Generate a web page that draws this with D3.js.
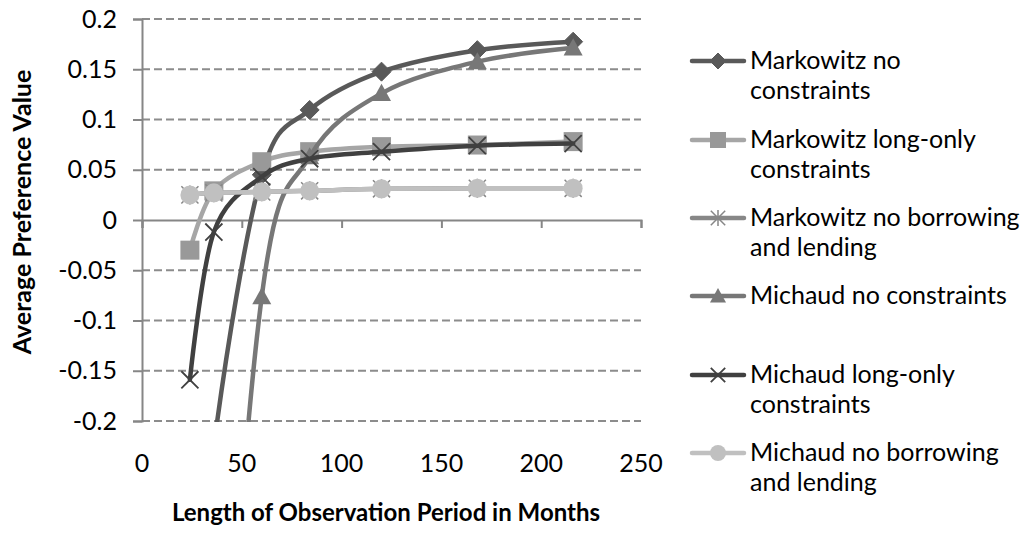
<!DOCTYPE html>
<html>
<head>
<meta charset="utf-8">
<script src="https://cdn.jsdelivr.net/npm/d3@7"></script>
<style>
  html, body { margin: 0; padding: 0; background: #fff; }
  svg { display: block; }
  text { font-family: Lato, "Open Sans", sans-serif; fill: #000; }
</style>
</head>
<body>
<svg id="chart" width="1024" height="534"></svg>
<script>
// ---- data ----
const months = [24, 36, 60, 84, 120, 168, 216];
const markowitzNoConstraints = [-0.5, -0.225, 0.045, 0.1095, 0.1476, 0.169, 0.1774];
const markowitzLongOnly = [-0.03, 0.029, 0.058, 0.068, 0.073, 0.0746, 0.078];
const markowitzNoBorrowing = [0.025, 0.027, 0.028, 0.029, 0.031, 0.0315, 0.0315];
const michaudNoConstraints = [-1.2, -0.67, -0.0763, 0.063, 0.126, 0.1575, 0.1713];
const michaudLongOnly = [-0.159, -0.012, 0.043, 0.061, 0.068, 0.074, 0.076];
const michaudNoBorrowing = [0.025, 0.027, 0.028, 0.029, 0.031, 0.0315, 0.0315];

const seriesNames = [
  ["Markowitz no", "constraints"],
  ["Markowitz long-only", "constraints"],
  ["Markowitz no borrowing", "and lending"],
  ["Michaud no constraints"],
  ["Michaud long-only", "constraints"],
  ["Michaud no borrowing", "and lending"]
];
const xTicks = [0, 50, 100, 150, 200, 250];
const yTicks = [-0.2, -0.15, -0.1, -0.05, 0, 0.05, 0.1, 0.15, 0.2];
const xTitle = "Length of Observation Period in Months";
const yTitle = "Average Preference Value";

// ---- styles ----
const seriesValues = [markowitzNoConstraints, markowitzLongOnly, markowitzNoBorrowing,
                      michaudNoConstraints, michaudLongOnly, michaudNoBorrowing];
const lineColors = ["#595959", "#a6a6a6", "#878787", "#777777", "#404040", "#c0c0c0"];
const markerColors = ["#595959", "#999999", "#878787", "#777777", "#404040", "#c0c0c0"];
const markerTypes = ["diamond", "square", "asterisk", "triangle", "x", "circle"];

const svg = d3.select("#chart");
const L = 142, R = 641, T = 19, B = 421;
const x = d3.scaleLinear().domain([0, 250]).range([L, R]);
const y = d3.scaleLinear().domain([-0.2, 0.2]).range([B, T]);

// gridlines
svg.append("g").selectAll("line").data(yTicks.filter(v => v !== 0)).join("line")
  .attr("x1", L).attr("x2", R)
  .attr("y1", d => y(d)).attr("y2", d => y(d))
  .attr("stroke", "#8c8c8c").attr("stroke-width", 2)
  .attr("stroke-dasharray", "8,4");

// y axis
const yAxis = d3.axisLeft(y).tickValues(yTicks).tickSize(9).tickPadding(16)
  .tickFormat(d => d === 0 ? "0" : String(+d.toFixed(2)));
const gy = svg.append("g").attr("transform", `translate(${L},0)`).call(yAxis);
gy.select(".domain").attr("stroke", "#868686").attr("stroke-width", 2);
gy.selectAll(".tick line").attr("stroke", "#868686").attr("stroke-width", 2);
gy.selectAll(".tick text").attr("font-size", 25).attr("font-family", "Lato").attr("fill", "#000");

// x axis at y=0
const xAxis = d3.axisBottom(x).tickValues(xTicks).tickSize(8).tickFormat(d3.format("d"));
const gx = svg.append("g").attr("transform", `translate(0,${y(0)})`).call(xAxis);
gx.select(".domain").attr("stroke", "#868686").attr("stroke-width", 2);
gx.selectAll(".tick line").attr("stroke", "#868686").attr("stroke-width", 2);
gx.selectAll(".tick text").remove();
// x tick labels placed below the plot
svg.append("g").selectAll("text").data(xTicks).join("text")
  .attr("x", d => x(d)).attr("y", 472)
  .attr("text-anchor", "middle").attr("font-size", 25)
  .text(d => d);

// axis titles
svg.append("text").attr("x", 386).attr("y", 521).attr("text-anchor", "middle")
  .attr("font-size", 24).attr("font-weight", "bold").text(xTitle);
svg.append("text").attr("transform", "translate(31,212) rotate(-90)")
  .attr("text-anchor", "middle").attr("font-size", 25).attr("font-weight", "bold").text(yTitle);

// clip
svg.append("clipPath").attr("id", "plotclip").append("rect")
  .attr("x", L - 1).attr("y", T - 1).attr("width", R - L + 2).attr("height", B - T + 2);

function drawMarker(g, type, color, cx, cy, s) {
  const h = s / 2;
  if (type === "diamond") {
    g.append("path").attr("d", `M${cx},${cy - h}L${cx + h},${cy}L${cx},${cy + h}L${cx - h},${cy}Z`)
      .attr("fill", color).attr("stroke", color).attr("stroke-width", 1);
  } else if (type === "square") {
    g.append("rect").attr("x", cx - h).attr("y", cy - h).attr("width", s).attr("height", s)
      .attr("fill", color);
  } else if (type === "triangle") {
    g.append("path").attr("d", `M${cx},${cy - h}L${cx + h},${cy + h * 0.8}L${cx - h},${cy + h * 0.8}Z`)
      .attr("fill", color);
  } else if (type === "circle") {
    g.append("circle").attr("cx", cx).attr("cy", cy).attr("r", h).attr("fill", color);
  } else if (type === "x") {
    const k = h * 0.9;
    g.append("path").attr("d", `M${cx - k},${cy - k}L${cx + k},${cy + k}M${cx - k},${cy + k}L${cx + k},${cy - k}`)
      .attr("stroke", color).attr("stroke-width", 1.8).attr("fill", "none");
  } else if (type === "asterisk") {
    const k = h * 0.9;
    g.append("path").attr("d", `M${cx - k},${cy - k}L${cx + k},${cy + k}M${cx - k},${cy + k}L${cx + k},${cy - k}M${cx},${cy - h}L${cx},${cy + h}`)
      .attr("stroke", color).attr("stroke-width", 1.5).attr("fill", "none");
  }
}

const line = d3.line().x(d => x(d[0])).y(d => y(d[1])).curve(d3.curveCatmullRom.alpha(0));
const plot = svg.append("g").attr("clip-path", "url(#plotclip)");
seriesValues.forEach((vals, i) => {
  const pts = months.map((m, j) => [m, vals[j]]);
  const g = plot.append("g");
  g.append("path").datum(pts).attr("d", line)
    .attr("fill", "none").attr("stroke", lineColors[i]).attr("stroke-width", 4.5)
    .attr("stroke-linejoin", "round").attr("stroke-linecap", "round");
  pts.filter(p => p[1] >= -0.2 && p[1] <= 0.2).forEach(p => {
    drawMarker(g, markerTypes[i], markerColors[i], x(p[0]), y(p[1]), 19);
  });
});

// legend
const legendY = [61, 140, 218, 296, 375, 453];
const leg = svg.append("g");
seriesNames.forEach((lines, i) => {
  const ly = legendY[i];
  leg.append("line").attr("x1", 692).attr("x2", 744).attr("y1", ly).attr("y2", ly)
    .attr("stroke", lineColors[i]).attr("stroke-width", 4.5).attr("stroke-linecap", "round");
  drawMarker(leg, markerTypes[i], markerColors[i], 718, ly, 16);
  const t = leg.append("text").attr("x", 750).attr("y", ly + 8).attr("font-size", 25);
  lines.forEach((s, k) => {
    t.append("tspan").attr("x", 750).attr("dy", k === 0 ? 0 : 30).text(s);
  });
});
</script>
</body>
</html>
